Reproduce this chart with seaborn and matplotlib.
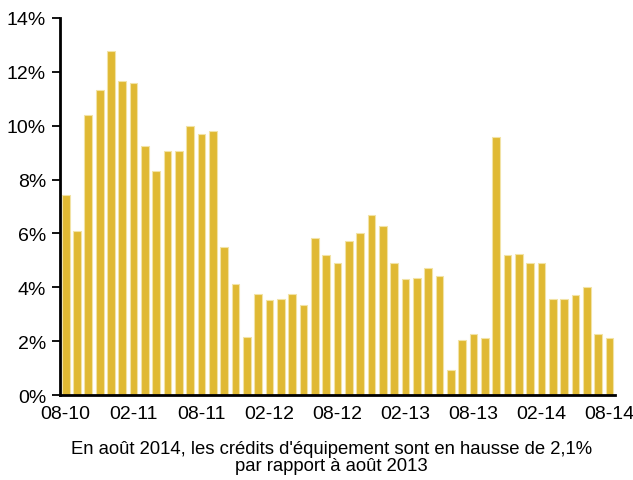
import numpy as np
import pandas as pd
import seaborn as sns
import matplotlib
matplotlib.use('Agg')
import matplotlib.pyplot as plt

# monthly growth rate of equipment loans, 08-2010 .. 08-2014
months = ['08-10', '09-10', '10-10', '11-10', '12-10', '01-11', '02-11', '03-11', '04-11',
          '05-11', '06-11', '07-11', '08-11', '09-11', '10-11', '11-11', '12-11', '01-12',
          '02-12', '03-12', '04-12', '05-12', '06-12', '07-12', '08-12', '09-12', '10-12',
          '11-12', '12-12', '01-13', '02-13', '03-13', '04-13', '05-13', '06-13', '07-13',
          '08-13', '09-13', '10-13', '11-13', '12-13', '01-14', '02-14', '03-14', '04-14',
          '05-14', '06-14', '07-14', '08-14']
values = [7.44, 6.08, 10.41, 11.31, 12.78, 11.66, 11.60, 9.23, 8.33, 9.05, 9.05, 9.99,
          9.70, 9.81, 5.48, 4.11, 2.15, 3.75, 3.53, 3.58, 3.75, 3.34, 5.83, 5.19,
          4.89, 5.72, 6.01, 6.67, 6.26, 4.89, 4.29, 4.36, 4.72, 4.42, 0.92, 2.04,
          2.28, 2.10, 9.59, 5.19, 5.25, 4.89, 4.89, 3.58, 3.58, 3.70, 4.00, 2.28, 2.10]
yticks = [0, 2, 4, 6, 8, 10, 12, 14]
caption = "En août 2014, les crédits d'équipement sont en hausse de 2,1%\npar rapport à août 2013"

df = pd.DataFrame({'month': months, 'value': values})

sns.set_style('white')
plt.rcParams['font.family'] = ['Liberation Sans', 'DejaVu Sans']
plt.rcParams['text.color'] = 'black'
plt.rcParams['xtick.color'] = 'black'
plt.rcParams['ytick.color'] = 'black'

fig = plt.figure(figsize=(6.33, 4.81), dpi=100)
ax = fig.add_axes([0.0948, 0.1767, 0.8768, 0.7838])
sns.barplot(data=df, x='month', y='value', color='#E0B933', saturation=1,
            width=0.68, edgecolor='#F2E3A6', linewidth=0.8, ax=ax)

ax.set_ylim(0, 14)
ax.set_xlim(-0.5, len(months) - 0.5)
ax.set_yticks(yticks)
ax.set_yticklabels(['{}%'.format(v) for v in yticks], fontsize=14)
ax.set_xticks(range(0, len(months), 6))
ax.set_xticklabels(months[::6], fontsize=14)
ax.set_xticks(np.arange(-0.5, len(months), 1), minor=True)
ax.tick_params(axis='x', which='major', length=0, pad=7)
ax.tick_params(axis='x', which='minor', direction='inout', length=9, width=1.3, color='black')
ax.tick_params(axis='y', direction='out', length=6, width=1.3, color='black', left=True, pad=4)
ax.set_xlabel('')
ax.set_ylabel('')
for side in ['top', 'right']:
    ax.spines[side].set_visible(False)
for side in ['left', 'bottom']:
    ax.spines[side].set_color('black')
    ax.spines[side].set_linewidth(2)

fig.text(0.524, 0.012, caption, ha='center', va='bottom', fontsize=13.3, linespacing=1.0)

fig.savefig('out.png', dpi=100)
